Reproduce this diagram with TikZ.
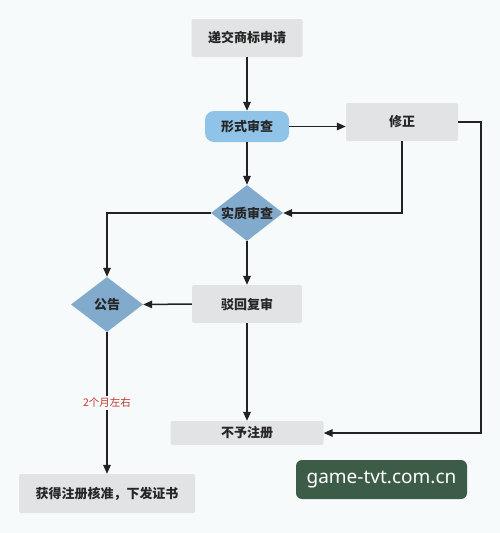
\documentclass[tikz,border=0pt]{standalone}
\usepackage{fontspec}
\newfontfamily\cjk{Noto Sans CJK SC}
\newfontfamily\wmfont{Noto Sans}
\usetikzlibrary{shapes.geometric,arrows.meta}
\definecolor{bgc}{HTML}{F6FAFB}
\definecolor{boxgray}{HTML}{E2E3E5}
\definecolor{pillblue}{HTML}{8FC4E8}
\definecolor{diablue}{HTML}{81AACC}
\definecolor{linec}{HTML}{222222}
\definecolor{redc}{HTML}{C0392B}
\definecolor{wmgreen}{HTML}{3D5C48}
\tikzset{
  graybox/.style={rectangle, fill=boxgray, rounded corners=2pt, inner sep=0pt, font=\cjk\bfseries\fontsize{13}{15}\selectfont, text=black!85},
  pill/.style={rectangle, fill=pillblue, rounded corners=9pt, inner sep=0pt, font=\cjk\bfseries\fontsize{13}{15}\selectfont, text=black!85},
  decide/.style={diamond, fill=diablue, inner sep=0pt, label={[font=\cjk\bfseries\fontsize{13}{15}\selectfont, text=black!85]center:#1}},
  conn/.style={draw=linec, line width=1.5pt, -{Triangle[length=9pt,width=7.5pt]}},
  plain/.style={draw=linec, line width=1.5pt}
}
\begin{document}
\begin{tikzpicture}[x=1pt,y=-1pt]
\useasboundingbox[fill=bgc] (0,0) rectangle (500,533);
\node[graybox, minimum width=111pt, minimum height=38pt] (submit) at (247,38) {递交商标申请};
\node[pill, minimum width=84pt, minimum height=31pt] (formal) at (247,126.5) {形式审查};
\node[graybox, minimum width=112pt, minimum height=38pt] (fix) at (402,122) {修正};
\node[decide=实质审查, minimum width=72pt, minimum height=56pt] (subst) at (247,213) {};
\node[decide=公告, minimum width=72pt, minimum height=55pt] (notice) at (107,304.5) {};
\node[graybox, minimum width=110pt, minimum height=38pt] (reject) at (247,304) {驳回复审};
\node[graybox, minimum width=153pt, minimum height=24pt] (refuse) at (247,433) {不予注册};
\node[graybox, minimum width=176pt, minimum height=39pt] (grant) at (107,493.5) {获得注册核准，下发证书};
\node[fill=wmgreen, rounded corners=6pt, minimum width=171pt, minimum height=39pt, inner sep=0pt, text=white, font=\wmfont\fontsize{19}{21}\selectfont] (wm) at (381.5,479.5) {game-tvt.com.cn};

\draw[conn] (submit.south) -- (formal.north);
\draw[conn] (formal.east) -- (formal.east -| fix.west);
\draw[conn] (formal.south) -- (subst.north);
\draw[conn] (fix.south) |- (subst.east);
\draw[conn] (fix.east) -- ++(23,0) |- (refuse.east);
\draw[conn] (subst.west) -| (notice.north);
\draw[conn] (subst.south) -- (reject.north);
\draw[conn] (reject.west) -- (notice.east);
\draw[conn] (reject.south) -- (refuse.north);
\draw[conn] (notice.south) -- node[fill=bgc, inner sep=2pt, text=redc, font=\cjk\fontsize{10.5}{12}\selectfont] (lbl) {2个月左右} (grant.north);
\end{tikzpicture}
\end{document}
